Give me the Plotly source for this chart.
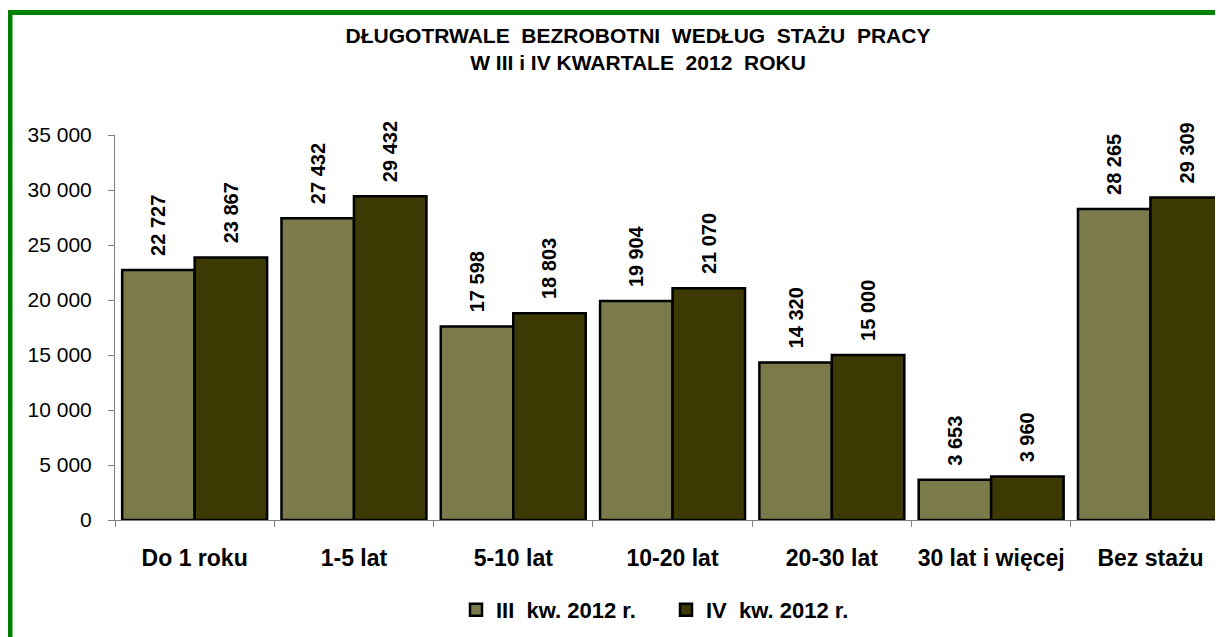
import plotly.graph_objects as go

# data
categories = ['Do 1 roku', '1-5 lat', '5-10 lat', '10-20 lat', '20-30 lat', '30 lat i więcej', 'Bez stażu']
q3_2012 = [22727, 27432, 17598, 19904, 14320, 3653, 28265]
q4_2012 = [23867, 29432, 18803, 21070, 15000, 3960, 29309]
series_names = ['III\u00a0 kw. 2012 r.', 'IV\u00a0 kw. 2012 r.']
y_ticks = [0, 5000, 10000, 15000, 20000, 25000, 30000, 35000]
y_tick_labels = ['0', '5 000', '10 000', '15 000', '20 000', '25 000', '30 000', '35 000']


def fmt(v):
    # leading nbsp's keep the rotated label a bit above the bar
    return '\u00a0\u00a0' + f'{v:,}'.replace(',', ' ')


FONT = 'Liberation Sans, Arial, sans-serif'
colors = ['#7B7A4A', '#3C3A02']

fig = go.Figure()
for name, vals, col in zip(series_names, [q3_2012, q4_2012], colors):
    fig.add_trace(go.Bar(
        x=categories, y=vals, name=name,
        marker=dict(color=col, line=dict(color='black', width=2.5)),
        text=[fmt(v) for v in vals],
        textposition='outside', textangle=-90,
        textfont=dict(family=FONT, size=20, color='black', weight='bold'),
        cliponaxis=False,
    ))

# the page body adds an 8px offset, so everything below is in figure coords
W, H = 1215, 629
L, T, B = 107, 127, 629 - 512
plot_w = W - L
cat_w = 159.3
x_end = -0.5 + plot_w / cat_w

fig.update_layout(
    width=W, height=H,
    margin=dict(l=L, r=0, t=T, b=B, autoexpand=False),
    paper_bgcolor='white', plot_bgcolor='white',
    barmode='group', bargap=0.09, bargroupgap=0,
    font=dict(family=FONT, color='black'),
    title=dict(
        text='DŁUGOTRWALE\u00a0 BEZROBOTNI\u00a0 WEDŁUG\u00a0 STAŻU\u00a0 PRACY<br>W III i IV KWARTALE\u00a0 2012\u00a0 ROKU',
        x=630 / W, xanchor='center', xref='container',
        y=1 - 35 / H, yanchor='middle', yref='container',
        font=dict(family=FONT, size=21, color='black', weight='bold'),
    ),
    xaxis=dict(
        range=[-0.5, x_end], showline=True, linecolor='#808080', linewidth=1,
        ticks='outside', ticklen=6, tickcolor='#808080', tickson='boundaries',
        tickangle=0, automargin=False,
        tickfont=dict(family=FONT, size=23, color='black', weight='bold'),
        ticklabelstandoff=17, showgrid=False, zeroline=False,
    ),
    yaxis=dict(
        range=[0, 35000], tickvals=y_ticks, ticktext=y_tick_labels,
        showline=True, linecolor='#808080', linewidth=1,
        ticks='outside', ticklen=6, tickcolor='#808080', automargin=False,
        tickfont=dict(family=FONT, size=21, color='black'),
        ticklabelstandoff=12, showgrid=False, zeroline=False,
    ),
    legend=dict(
        orientation='h', x=658 / W, xanchor='center', xref='container',
        y=(H - 602) / H, yanchor='middle', yref='container',
        bgcolor='rgba(0,0,0,0)',
        font=dict(family=FONT, size=22, color='black', weight='bold'),
        itemwidth=30, tracegroupgap=0, entrywidth=165,
    ),
    shapes=[dict(
        type='rect', xref='paper', yref='paper', layer='above',
        x0=(2 - L) / plot_w, x1=1.2, y0=-1.0, y1=(512 - 4.5) / (512 - T),
        line=dict(color='#008000', width=5), fillcolor='rgba(0,0,0,0)',
    )],
)

fig.write_html('out.html')
